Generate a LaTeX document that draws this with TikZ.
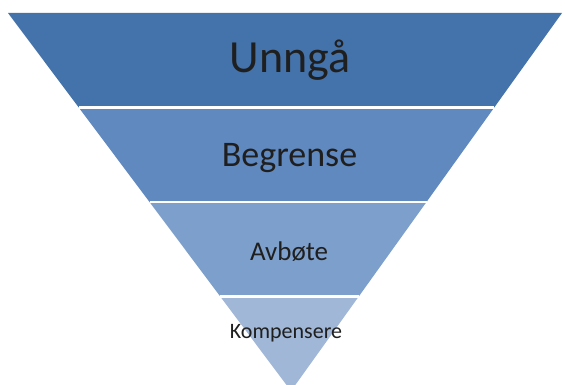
\documentclass[tikz,border=0pt]{standalone}
\usepackage{fontspec}
\setmainfont{Carlito}
\usetikzlibrary{calc}
\definecolor{bandA}{HTML}{4472AA}
\definecolor{bandB}{HTML}{6089C0}
\definecolor{bandC}{HTML}{7D9FCB}
\definecolor{bandD}{HTML}{A0B7D8}
\begin{document}
\begin{tikzpicture}[
        x=1pt, y=-1pt,
        gap/.style={draw=white, line width=2.5pt},
        levtext/.style={inner sep=0pt, anchor=base, text=black!88}
    ]
    \useasboundingbox (0,0) rectangle (565,385);
    \clip (0,0) rectangle (565,385);

    % Corners
    \coordinate (tl) at (8,13);
    \coordinate (tr) at (562,13);
    \coordinate (apex) at (291,391);

    % Bands
    \foreach \a/\b/\c in {0/0.25/bandA, 0.25/0.5/bandB, 0.5/0.75/bandC, 0.75/1/bandD}
        \fill[\c] ($(tl)!\a!(apex)$) -- ($(tr)!\a!(apex)$) -- ($(tr)!\b!(apex)$) -- ($(tl)!\b!(apex)$) -- cycle;
    \foreach \t in {0.25,0.5,0.75}
        \draw[gap] ($(tl)!\t!(apex)$) -- ($(tr)!\t!(apex)$);

    % Labels
    \node[levtext, font=\fontsize{46}{50}\selectfont] (unnga) at (290,73) {Unngå};
    \node[levtext, font=\fontsize{36}{40}\selectfont] (begrense) at (289.5,167) {Begrense};
    \node[levtext, font=\fontsize{27}{30}\selectfont] (avbote) at (289,260) {Avbøte};
    \node[levtext, font=\fontsize{22}{25}\selectfont] (kompensere) at (286,338) {Kompensere};

\end{tikzpicture}
\end{document}
